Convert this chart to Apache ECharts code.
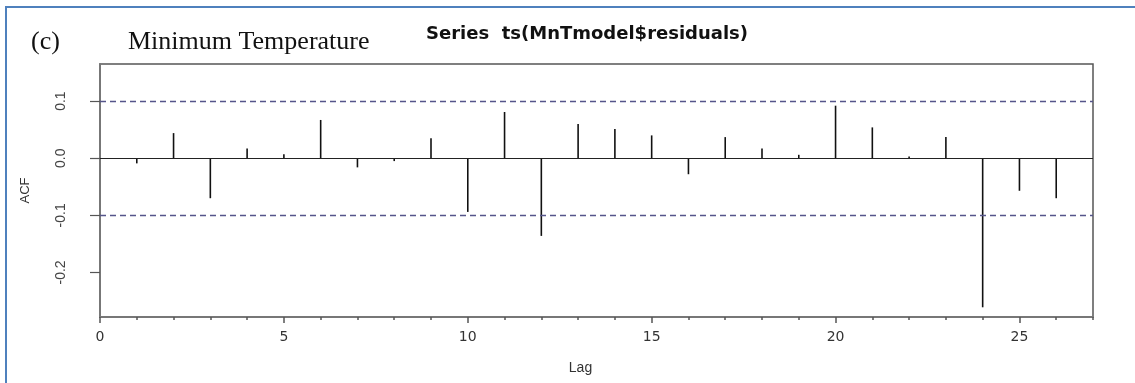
<!DOCTYPE html>
<html>
<head>
<meta charset="utf-8">
<script src="https://cdn.jsdelivr.net/npm/echarts@6/dist/echarts.min.js"></script>
<style>
  html, body { margin: 0; padding: 0; background: #fff; }
  #acf { width: 1135px; height: 383px; }
</style>
</head>
<body>
<div id="acf"></div>
<script>
// lags and residual autocorrelations
var lags = [1, 2, 3, 4, 5, 6, 7, 8, 9, 10, 11, 12, 13, 14, 15, 16, 17, 18, 19, 20, 21, 22, 23, 24, 25, 26];
var acfValues = [-0.009, 0.044, -0.070, 0.017, 0.007, 0.067, -0.016, -0.005, 0.035, -0.094, 0.081, -0.136, 0.060,
                 0.051, 0.040, -0.028, 0.037, 0.017, 0.006, 0.092, 0.054, 0.003, 0.037, -0.261, -0.057, -0.070];
var confBound = 0.097; // dashed significance limits
var yTicks = [-0.2, -0.1, 0.0, 0.1];

var myChart = echarts.init(document.getElementById('acf'));

var barData = lags.map(function (l, i) { return [l, acfValues[i]]; });

var option = {
    animation: false,
    title: [{
        text: 'Series  ts(MnTmodel$residuals)',
        left: 421, top: 20,
        textStyle: { fontFamily: 'DejaVu Sans', fontWeight: 'bold', fontSize: 18, color: '#111' }
    }, {
        text: '(c)',
        left: 26, top: 24,
        textStyle: { fontFamily: 'Liberation Serif', fontWeight: 'normal', fontSize: 26, color: '#111' }
    }, {
        text: 'Minimum Temperature',
        left: 123, top: 24,
        textStyle: { fontFamily: 'Liberation Serif', fontWeight: 'normal', fontSize: 26, color: '#111' }
    }],
    graphic: [{
        type: 'polyline',
        shape: { points: [[6, 383], [6, 7], [1135, 7]] },
        style: { stroke: '#4f81bd', lineWidth: 2, fill: null }
    }],
    grid: {
        left: 100, top: 64, right: 42, bottom: 66,
        show: true, borderColor: '#555', borderWidth: 1.5, backgroundColor: 'transparent'
    },
    xAxis: [{
        type: 'value', min: 0, max: 27, interval: 5,
        name: 'Lag', nameLocation: 'middle', nameGap: 44,
        nameTextStyle: { fontFamily: 'Liberation Sans', fontSize: 14, color: '#333', padding: [0, 32, 0, 0] },
        axisLine: { show: true, onZero: false, lineStyle: { color: '#777', width: 2 } },
        axisTick: { show: true, length: 6, lineStyle: { color: '#555', width: 1.5 } },
        axisLabel: { showMaxLabel: false, margin: 13, fontFamily: 'DejaVu Sans', fontSize: 14, color: '#333' },
        splitLine: { show: false }
    }, {
        type: 'value', min: 0, max: 27, interval: 1, position: 'bottom',
        axisLine: { show: false, onZero: false },
        axisTick: { show: true, length: 3, lineStyle: { color: '#555', width: 1.5 } },
        axisLabel: { show: false },
        splitLine: { show: false }
    }],
    yAxis: {
        type: 'value', min: -0.278, max: 0.165,
        name: 'ACF', nameLocation: 'middle', nameGap: 68,
        nameTextStyle: { fontFamily: 'Liberation Sans', fontSize: 13, color: '#333' },
        axisLine: { show: true, onZero: false, lineStyle: { color: '#777', width: 2 } },
        axisTick: { show: true, length: 10, customValues: yTicks, lineStyle: { color: '#555', width: 1.2 } },
        axisLabel: {
            customValues: yTicks, rotate: 90, margin: 32,
            fontFamily: 'Liberation Sans', fontSize: 14, color: '#444',
            formatter: function (v) { return v.toFixed(1); }
        },
        splitLine: { show: false }
    },
    series: [{
        type: 'bar',
        xAxisIndex: 0,
        data: barData,
        barWidth: 1.6,
        itemStyle: { color: '#111' },
        markLine: {
            silent: true, symbol: 'none', label: { show: false },
            data: [
                { yAxis: 0, lineStyle: { color: '#222', type: 'solid', width: 1.2 } },
                { yAxis: confBound, lineStyle: { color: '#55558a', type: [6, 4], width: 1.3 } },
                { yAxis: -confBound, lineStyle: { color: '#55558a', type: [6, 4], width: 1.3 } }
            ]
        }
    }]
};
myChart.setOption(option);
</script>
</body>
</html>
